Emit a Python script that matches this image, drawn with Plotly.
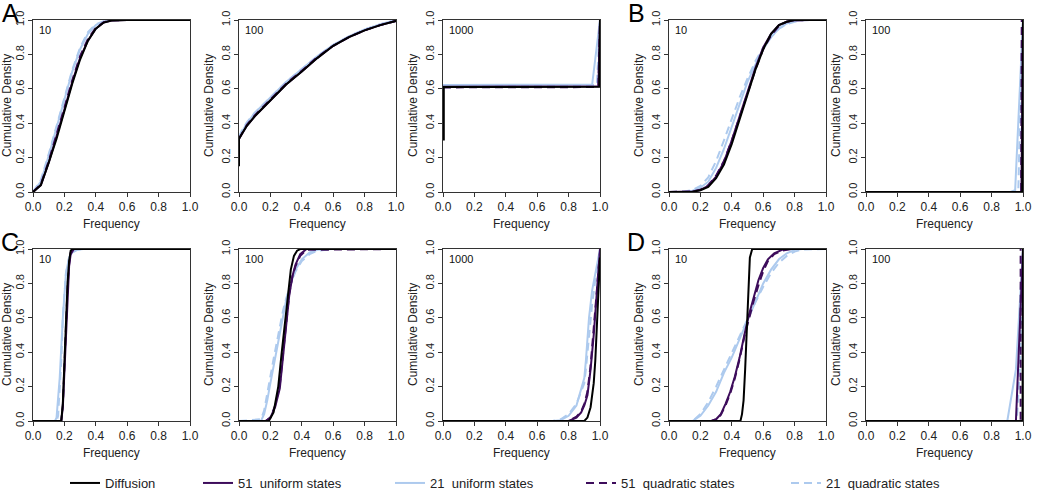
import plotly.graph_objects as go

# ---------------- data ----------------
# Panel A, 10
a10_x = [0, 0.05, 0.1, 0.15, 0.2, 0.25, 0.3, 0.35, 0.4, 0.45, 0.5, 0.6, 1.0]
a10_diff = [0, 0.04, 0.17, 0.31, 0.47, 0.63, 0.77, 0.88, 0.95, 0.985, 0.997, 1, 1]
a10_u51 = [0, 0.04, 0.17, 0.32, 0.48, 0.64, 0.78, 0.88, 0.95, 0.985, 0.997, 1, 1]
a10_u21 = [0, 0.06, 0.21, 0.37, 0.54, 0.70, 0.83, 0.92, 0.97, 0.99, 1, 1, 1]
a10_q51 = [0, 0.045, 0.18, 0.33, 0.49, 0.65, 0.79, 0.89, 0.955, 0.987, 0.998, 1, 1]
a10_q21 = [0, 0.07, 0.22, 0.38, 0.55, 0.71, 0.84, 0.93, 0.975, 0.993, 1, 1, 1]

# Panel A, 100
a100_x = [0, 0.02, 0.05, 0.1, 0.2, 0.3, 0.4, 0.5, 0.6, 0.7, 0.8, 0.9, 1.0]
a100_x_diff = [0, 0, 0.02, 0.05, 0.1, 0.2, 0.3, 0.4, 0.5, 0.6, 0.7, 0.8, 0.9, 1.0]
a100_diff = [0.15, 0.31, 0.34, 0.385, 0.44, 0.535, 0.625, 0.70, 0.78, 0.85, 0.90, 0.94, 0.97, 0.995]
a100_u51 = [0.31, 0.34, 0.385, 0.44, 0.535, 0.625, 0.70, 0.78, 0.85, 0.90, 0.94, 0.97, 0.995]
a100_q51 = [0.31, 0.345, 0.39, 0.445, 0.54, 0.63, 0.705, 0.785, 0.85, 0.90, 0.94, 0.97, 0.995]
a100_u21 = [0.32, 0.355, 0.40, 0.46, 0.55, 0.64, 0.715, 0.79, 0.855, 0.905, 0.945, 0.975, 1.0]
a100_q21 = [0.32, 0.36, 0.405, 0.46, 0.55, 0.64, 0.715, 0.79, 0.855, 0.905, 0.945, 0.975, 1.0]

# Panel A, 1000
a1000_x_diff = [0.005, 0.005, 0.995, 1.0]
a1000_diff = [0.3, 0.61, 0.612, 1.0]
a1000_x_u51 = [0, 0.99, 1.0]
a1000_u51 = [0.612, 0.615, 1.0]
a1000_x_q51 = [0, 0.985, 0.99, 1.0]
a1000_q51 = [0.608, 0.61, 0.62, 1.0]
a1000_x_u21 = [0, 0.95, 1.0]
a1000_u21 = [0.622, 0.625, 1.0]
a1000_x_q21 = [0, 0.98, 1.0]
a1000_q21 = [0.62, 0.622, 1.0]

# Panel B, 10
b10_x = [0, 0.1, 0.15, 0.2, 0.25, 0.3, 0.35, 0.4, 0.45, 0.5, 0.55, 0.6, 0.65, 0.7, 0.75, 0.8, 0.85, 0.9, 1.0]
b10_diff = [0, 0, 0.002, 0.01, 0.03, 0.08, 0.16, 0.28, 0.42, 0.57, 0.71, 0.83, 0.92, 0.97, 0.99, 1, 1, 1, 1]
b10_u51 = [0, 0, 0.003, 0.012, 0.035, 0.09, 0.175, 0.30, 0.44, 0.59, 0.72, 0.84, 0.92, 0.97, 0.99, 0.998, 1, 1, 1]
b10_q51 = [0, 0, 0.003, 0.013, 0.04, 0.095, 0.18, 0.30, 0.44, 0.58, 0.71, 0.83, 0.91, 0.965, 0.99, 0.998, 1, 1, 1]
b10_u21 = [0, 0.002, 0.008, 0.025, 0.06, 0.14, 0.25, 0.38, 0.51, 0.64, 0.74, 0.83, 0.9, 0.95, 0.98, 0.995, 1, 1, 1]
b10_q21 = [0, 0.003, 0.012, 0.035, 0.085, 0.18, 0.30, 0.43, 0.55, 0.66, 0.76, 0.84, 0.9, 0.95, 0.975, 0.99, 0.998, 1, 1]

# Panel B, 100
b100_x_diff = [0, 0.995, 1.0]
b100_diff = [0, 0, 1.0]
b100_x_u51 = [0, 0.99, 1.0]
b100_u51 = [0, 0, 1.0]
b100_x_q51 = [0, 0.988, 0.992, 1.0]
b100_q51 = [0, 0, 1.0, 1.0]
b100_x_u21 = [0, 0.92, 0.95, 1.0]
b100_u21 = [0, 0, 0.01, 1.0]
b100_x_q21 = [0, 0.97, 0.985, 1.0]
b100_q21 = [0, 0, 0.6, 1.0]

# Panel C, 10
c10_x_diff = [0, 0.18, 0.19, 0.2, 0.21, 0.22, 0.23, 0.24, 0.25, 1]
c10_diff = [0, 0, 0.1, 0.35, 0.6, 0.8, 0.93, 0.99, 1, 1]
c10_x_51 = [0, 0.18, 0.19, 0.2, 0.21, 0.22, 0.23, 0.24, 0.26, 1]
c10_u51 = [0, 0, 0.08, 0.3, 0.56, 0.77, 0.9, 0.97, 1, 1]
c10_q51 = [0, 0, 0.09, 0.32, 0.58, 0.78, 0.91, 0.98, 1, 1]
c10_x_u21 = [0, 0.14, 0.15, 0.17, 0.19, 0.2, 0.21, 0.23, 0.25, 0.28, 0.32, 1]
c10_u21 = [0, 0, 0.02, 0.25, 0.6, 0.75, 0.86, 0.95, 0.98, 0.995, 1, 1]
c10_x_q21 = [0, 0.15, 0.16, 0.18, 0.19, 0.2, 0.21, 0.23, 0.25, 0.28, 0.32, 1]
c10_q21 = [0, 0, 0.03, 0.35, 0.6, 0.76, 0.86, 0.95, 0.98, 0.995, 1, 1]

# Panel C, 100
c100_x_diff = [0, 0.19, 0.22, 0.25, 0.27, 0.29, 0.31, 0.33, 0.35, 0.37, 0.39, 1]
c100_diff = [0, 0, 0.05, 0.2, 0.38, 0.56, 0.73, 0.88, 0.96, 0.99, 1, 1]
c100_x_51 = [0, 0.17, 0.2, 0.23, 0.26, 0.28, 0.3, 0.32, 0.34, 0.36, 0.39, 0.43, 1]
c100_u51 = [0, 0, 0.02, 0.08, 0.19, 0.38, 0.58, 0.73, 0.84, 0.91, 0.97, 1, 1]
c100_q51 = [0, 0, 0.02, 0.09, 0.21, 0.39, 0.59, 0.74, 0.84, 0.9, 0.96, 0.995, 1]
c100_x_21 = [0, 0.14, 0.16, 0.18, 0.2, 0.22, 0.24, 0.26, 0.28, 0.3, 0.33, 0.36, 0.4, 0.45, 0.5, 0.6, 1]
c100_u21 = [0, 0, 0.04, 0.12, 0.22, 0.32, 0.42, 0.52, 0.62, 0.70, 0.8, 0.88, 0.94, 0.98, 0.995, 1, 1]
c100_q21 = [0, 0.01, 0.06, 0.15, 0.26, 0.36, 0.46, 0.55, 0.64, 0.71, 0.8, 0.87, 0.93, 0.97, 0.99, 1, 1]

# Panel C, 1000
c1000_x_diff = [0, 0.9, 0.92, 0.94, 0.96, 0.97, 0.98, 0.99, 1.0]
c1000_diff = [0, 0, 0.02, 0.08, 0.22, 0.35, 0.55, 0.75, 0.95]
c1000_x_51 = [0, 0.8, 0.85, 0.88, 0.9, 0.92, 0.94, 0.96, 0.98, 0.99, 1.0]
c1000_u51 = [0, 0, 0.02, 0.05, 0.09, 0.15, 0.3, 0.5, 0.75, 0.88, 1.0]
c1000_q51 = [0, 0, 0.025, 0.055, 0.1, 0.17, 0.32, 0.52, 0.76, 0.88, 0.98]
c1000_x_21 = [0, 0.7, 0.75, 0.8, 0.85, 0.88, 0.9, 0.91, 0.93, 0.95, 0.97, 0.99, 1.0]
c1000_u21 = [0, 0, 0.005, 0.03, 0.09, 0.18, 0.25, 0.35, 0.6, 0.76, 0.86, 0.95, 1.0]
c1000_q21 = [0, 0, 0.01, 0.04, 0.1, 0.17, 0.22, 0.3, 0.5, 0.68, 0.82, 0.94, 1.0]

# Panel D, 10
d10_x_diff = [0, 0.455, 0.465, 0.475, 0.485, 0.495, 0.505, 0.515, 0.53, 1]
d10_diff = [0, 0, 0.04, 0.12, 0.3, 0.55, 0.8, 0.95, 1, 1]
d10_x_51 = [0, 0.27, 0.3, 0.33, 0.36, 0.39, 0.42, 0.45, 0.48, 0.51, 0.54, 0.57, 0.6, 0.63, 0.67, 0.72, 0.78, 1]
d10_u51 = [0, 0, 0.01, 0.04, 0.1, 0.17, 0.26, 0.37, 0.5, 0.62, 0.72, 0.82, 0.89, 0.94, 0.975, 0.995, 1, 1]
d10_q51 = [0, 0, 0.01, 0.035, 0.09, 0.16, 0.25, 0.36, 0.49, 0.6, 0.7, 0.79, 0.87, 0.93, 0.97, 0.99, 1, 1]
d10_x_21 = [0, 0.15, 0.2, 0.25, 0.3, 0.35, 0.4, 0.45, 0.5, 0.55, 0.6, 0.65, 0.7, 0.75, 0.8, 0.85, 1]
d10_u21 = [0, 0, 0.03, 0.09, 0.17, 0.28, 0.37, 0.48, 0.59, 0.7, 0.8, 0.88, 0.94, 0.975, 0.995, 1, 1]
d10_q21 = [0, 0, 0.04, 0.11, 0.2, 0.3, 0.4, 0.5, 0.6, 0.69, 0.78, 0.86, 0.92, 0.96, 0.985, 0.997, 1]

# Panel D, 100
d100_x_diff = [0, 0.997, 1.0]
d100_diff = [0, 0, 1.0]
d100_x_u51 = [0, 0.955, 1.0]
d100_u51 = [0, 0, 1.0]
d100_x_q51 = [0, 0.985, 0.985]
d100_q51 = [0, 0, 1.0]
d100_x_u21 = [0, 0.9, 0.955, 1.0]
d100_u21 = [0, 0, 0.3, 1.0]
d100_x_q21 = [0, 0.96, 0.98, 1.0]
d100_q21 = [0, 0, 0.3, 1.0]

series_names = ["Diffusion", "51\u00a0 uniform states", "21\u00a0 uniform states",
                "51\u00a0 quadratic states", "21\u00a0 quadratic states"]
tick_vals = [0, 0.2, 0.4, 0.6, 0.8, 1.0]
tick_text = ["0.0", "0.2", "0.4", "0.6", "0.8", "1.0"]

# panel: (letter, inner label, row, col, {series: (x, y)})
panels = [
    ("A", "10", 0, 0, {"diff": (a10_x, a10_diff), "u51": (a10_x, a10_u51), "u21": (a10_x, a10_u21),
                       "q51": (a10_x, a10_q51), "q21": (a10_x, a10_q21)}),
    (None, "100", 0, 1, {"diff": (a100_x_diff, a100_diff), "u51": (a100_x, a100_u51), "u21": (a100_x, a100_u21),
                         "q51": (a100_x, a100_q51), "q21": (a100_x, a100_q21)}),
    (None, "1000", 0, 2, {"diff": (a1000_x_diff, a1000_diff), "u51": (a1000_x_u51, a1000_u51),
                          "u21": (a1000_x_u21, a1000_u21), "q51": (a1000_x_q51, a1000_q51),
                          "q21": (a1000_x_q21, a1000_q21)}),
    ("B", "10", 0, 3, {"diff": (b10_x, b10_diff), "u51": (b10_x, b10_u51), "u21": (b10_x, b10_u21),
                       "q51": (b10_x, b10_q51), "q21": (b10_x, b10_q21)}),
    (None, "100", 0, 4, {"diff": (b100_x_diff, b100_diff), "u51": (b100_x_u51, b100_u51),
                         "u21": (b100_x_u21, b100_u21), "q51": (b100_x_q51, b100_q51),
                         "q21": (b100_x_q21, b100_q21)}),
    ("C", "10", 1, 0, {"diff": (c10_x_diff, c10_diff), "u51": (c10_x_51, c10_u51), "u21": (c10_x_u21, c10_u21),
                       "q51": (c10_x_51, c10_q51), "q21": (c10_x_q21, c10_q21)}),
    (None, "100", 1, 1, {"diff": (c100_x_diff, c100_diff), "u51": (c100_x_51, c100_u51),
                         "u21": (c100_x_21, c100_u21), "q51": (c100_x_51, c100_q51),
                         "q21": (c100_x_21, c100_q21)}),
    (None, "1000", 1, 2, {"diff": (c1000_x_diff, c1000_diff), "u51": (c1000_x_51, c1000_u51),
                          "u21": (c1000_x_21, c1000_u21), "q51": (c1000_x_51, c1000_q51),
                          "q21": (c1000_x_21, c1000_q21)}),
    ("D", "10", 1, 3, {"diff": (d10_x_diff, d10_diff), "u51": (d10_x_51, d10_u51), "u21": (d10_x_21, d10_u21),
                       "q51": (d10_x_51, d10_q51), "q21": (d10_x_21, d10_q21)}),
    (None, "100", 1, 4, {"diff": (d100_x_diff, d100_diff), "u51": (d100_x_u51, d100_u51),
                         "u21": (d100_x_u21, d100_u21), "q51": (d100_x_q51, d100_q51),
                         "q21": (d100_x_q21, d100_q21)}),
]

# ---------------- styling / layout ----------------
W, H = 1038, 490
COL_LEFT = [33, 239, 443, 669, 866]
PW = 157
ROW_TOP = [20, 249]
PH = 172
DARK = "#3d0c5b"
LIGHT = "#adcaee"
BLACK = "#000000"
AXC = "#333333"
TXT = "#222222"
FONT = "Liberation Sans, Arial, sans-serif"
LEGEND_LINE_START = [70, 203, 395, 586, 791]

styles = {
    "diff": dict(color=BLACK, dash="solid", name=series_names[0], leg=0),
    "u51": dict(color=DARK, dash="solid", name=series_names[1], leg=1),
    "u21": dict(color=LIGHT, dash="solid", name=series_names[2], leg=2),
    "q51": dict(color=DARK, dash="8px,5px", name=series_names[3], leg=3),
    "q21": dict(color=LIGHT, dash="8px,5px", name=series_names[4], leg=4),
}
draw_order = ["q21", "u21", "q51", "u51", "diff"]


def px_x(p):
    return p / W


def px_y(p):
    return 1 - p / H


def legend_ref(k):
    return "legend" if k == 0 else f"legend{k + 1}"


fig = go.Figure()
layout = dict(
    width=W, height=H, margin=dict(l=0, r=0, t=0, b=0, autoexpand=False),
    paper_bgcolor="white", plot_bgcolor="white",
    font=dict(family=FONT, size=12, color=TXT),
    showlegend=True,
)
for k, xs in enumerate(LEGEND_LINE_START):
    layout[legend_ref(k)] = dict(orientation="h", x=px_x(xs - 5), xanchor="left",
                                 y=px_y(483), yanchor="middle",
                                 font=dict(size=13, family=FONT, color=TXT),
                                 bgcolor="rgba(0,0,0,0)", borderwidth=0, itemwidth=30)
annotations = []

for i, (letter, inner, row, col, data) in enumerate(panels):
    n = i + 1
    xa = "xaxis" if n == 1 else f"xaxis{n}"
    ya = "yaxis" if n == 1 else f"yaxis{n}"
    xr = "x" if n == 1 else f"x{n}"
    yr = "y" if n == 1 else f"y{n}"
    left = COL_LEFT[col]
    top = ROW_TOP[row]
    layout[xa] = dict(domain=[px_x(left), px_x(left + PW)], anchor=yr, range=[0, 1],
                      tickvals=tick_vals, ticktext=tick_text, ticks="outside", ticklen=4,
                      tickcolor=AXC, showline=True, linecolor=AXC, linewidth=1, mirror=True,
                      showgrid=False, zeroline=False, tickfont=dict(size=12, color=TXT),
                      ticklabeloverflow="allow", fixedrange=True)
    layout[ya] = dict(domain=[px_y(top + PH), px_y(top)], anchor=xr, range=[0, 1],
                      tickvals=tick_vals, ticktext=tick_text, ticks="outside", ticklen=4,
                      tickcolor=AXC, showline=True, linecolor=AXC, linewidth=1, mirror=True,
                      showgrid=False, zeroline=False, tickangle=-90,
                      tickfont=dict(size=11, color=TXT), ticklabeloverflow="allow", fixedrange=True)
    for key in draw_order:
        st = styles[key]
        xs, ys = data[key]
        fig.add_trace(go.Scatter(
            x=xs, y=ys, mode="lines", xaxis=xr, yaxis=yr,
            name=st["name"], showlegend=(n == 1), legend=legend_ref(st["leg"]),
            line=dict(color=st["color"], width=2, dash=st["dash"]),
        ))
    # inner label
    annotations.append(dict(text=inner, x=px_x(left + 4), y=px_y(top + 10), xref="paper", yref="paper",
                            xanchor="left", yanchor="middle", showarrow=False,
                            font=dict(size=11, color="#111111")))
    # axis titles
    annotations.append(dict(text="Frequency", x=px_x(left + PW / 2), y=px_y(top + PH + 32),
                            xref="paper", yref="paper", xanchor="center", yanchor="middle",
                            showarrow=False, font=dict(size=12, color=TXT)))
    annotations.append(dict(text="Cumulative Density", x=px_x(max(left - 30, 7)), y=px_y(top + PH / 2),
                            xref="paper", yref="paper", xanchor="center", yanchor="middle",
                            textangle=-90, showarrow=False, font=dict(size=12, color=TXT)))
    if letter:
        annotations.append(dict(text=letter, x=px_x(10 if col == 0 else left - 33),
                                y=px_y(top - 7), xref="paper", yref="paper",
                                xanchor="center", yanchor="middle", showarrow=False,
                                font=dict(size=25, color="#000000")))

layout["annotations"] = annotations
fig.update_layout(**layout)
fig.write_html("out.html")
